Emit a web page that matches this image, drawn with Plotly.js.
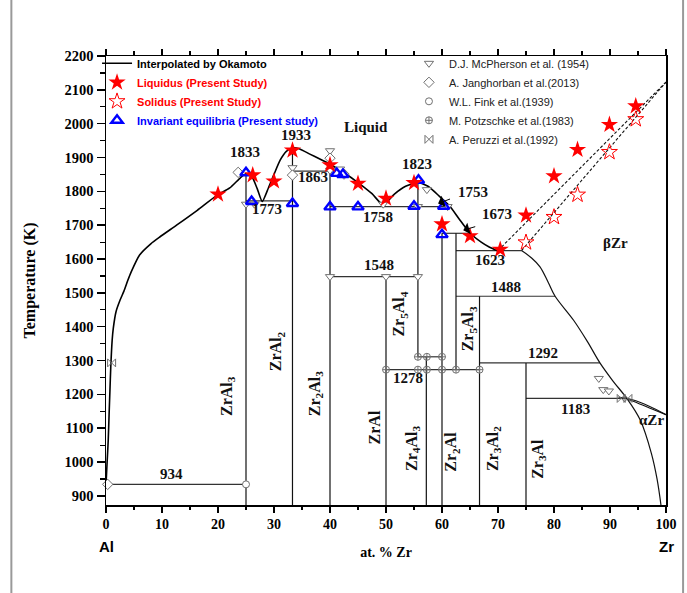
<!DOCTYPE html>
<html><head><meta charset="utf-8">
<script src="https://cdn.plot.ly/plotly-3.0.1.min.js"></script>
<style>body{margin:0;background:#fff}#chart{width:687px;height:593px}</style>
</head><body><div id="chart"></div>
<script>
// ---- Okamoto interpolated liquidus (solid) ----
const liquidusX = [0, 0.2, 0.4, 0.55, 0.7, 0.85, 1.1, 1.3, 1.8, 2.5, 3.2, 3.9, 4.5, 6, 8, 9.6, 12.6, 16.3, 19.8, 22.1, 24, 25, 26, 27, 27.9, 29, 30, 31.1, 32.2, 33.3, 34.5, 36.4, 38, 40, 42.5, 45, 47.5, 49.5, 51.5, 53.5, 55.7, 57.5, 59.5, 61.4, 63, 65, 67, 68.5, 70];
const liquidusT = [934, 1000, 1065, 1140, 1210, 1280, 1360, 1395, 1445, 1478, 1505, 1537, 1562, 1612, 1645, 1665, 1700, 1744, 1788, 1810, 1840, 1852, 1845, 1808, 1770, 1810, 1850, 1892, 1918, 1928, 1926, 1910, 1897, 1880, 1855, 1826, 1793, 1760, 1792, 1815, 1826, 1815, 1786, 1756, 1720, 1677, 1650, 1635, 1624];
// dashed liquidus / solidus towards Zr
const dashLiqX = [70, 100];
const dashLiqT = [1625, 2123];
const dashSolX = [74.2, 100];
const dashSolT = [1625, 2123];
// beta-Zr solvus
const solvusX = [74.2, 76, 77.5, 79, 80.2, 83.5, 86, 88.2, 90.5, 93, 95.4, 97.4, 98.4, 99.1];
const solvusT = [1625, 1603, 1577, 1530, 1490, 1419, 1355, 1293, 1240, 1188, 1124, 1025, 950, 873];
// alpha-Zr two-phase boundaries
const alphaUpX = [91.5, 94, 97, 100];
const alphaUpT = [1192, 1184, 1165, 1140];
const alphaLoX = [93, 95, 97.5, 100];
const alphaLoT = [1186, 1174, 1157, 1140];
// invariant isotherms (as drawn)
const isoT  = [934, 1772, 1860, 1755, 1755, 1676, 1625, 1548, 1490, 1311, 1273, 1293, 1188];
const isoX1 = [0, 25, 33.3, 40, 55.7, 60, 62.5, 40, 62.5, 55.7, 50, 66.7, 75];
const isoX2 = [25, 33.3, 40, 55.7, 61.4, 65, 74.2, 55.7, 80.2, 60, 66.7, 88.2, 93];
// intermetallic compound lines
const compX   = [25, 33.3, 40, 50, 55.7, 57.2, 60, 62.5, 66.7, 75];
const compTop = [1852, 1928, 1860, 1548, 1826, 1311, 1676, 1676, 1490, 1293];
const compBot = [873, 873, 873, 873, 1311, 873, 873, 1273, 873, 873];

// ---- present study ----
const liqStarX = [20, 26.2, 30, 33.3, 40, 45, 50, 55, 60, 65, 70.4, 75, 80, 84.2, 89.9, 94.6];
const liqStarT = [1791, 1848, 1830, 1921, 1878, 1823, 1779, 1825, 1703, 1668, 1628, 1729, 1845, 1923, 1997, 2052];
const solStarX = [75, 80, 84.2, 89.9, 94.6];
const solStarT = [1649, 1724, 1790, 1916, 2013];
const invX = [25, 26, 33.3, 40, 41.2, 42.3, 45, 55, 55.8, 60.3, 60];
const invT = [1855, 1770, 1764, 1754, 1853, 1850, 1754, 1756, 1833, 1756, 1672];

// ---- literature ----
const mcphX = [25, 26.5, 33.3, 40, 40, 41.8, 49.5, 55.7, 57.3, 61, 40, 50, 55.7, 88, 88.8, 89.8];
const mcphT = [1762, 1762, 1870, 1920, 1862, 1866, 1762, 1755, 1805, 1755, 1548, 1548, 1548, 1247, 1214, 1210];
const jangX = [0.3, 23.6, 33.3, 40, 42.5];
const jangT = [934, 1856, 1848, 1898, 1851];
const finkX = [25];
const finkT = [934];
const potzX = [50, 55.7, 57.3, 60, 62.5, 66.7, 55.7, 57.3, 60];
const potzT = [1273, 1273, 1273, 1273, 1273, 1273, 1311, 1311, 1311];
const peruX = [1, 92, 93.2];
const peruT = [1293, 1188, 1188];

// ---- labels ----
const labelText = ['1833','1773','1933','1863','Liquid','1823','1758','1753','1673','1623','1548','1488','1292','1278','1183','934','βZr','αZr'];
const labelX = [24.8, 28.7, 34, 37, 46.5, 55.5, 48.5, 65.5, 69.9, 68.6, 48.8, 71.5, 78.1, 54, 83.75, 11.7, 90.9, 97.4];
const labelT = [1916, 1749, 1966, 1843, 1990, 1882, 1723, 1798, 1734, 1596, 1582, 1518, 1323, 1247, 1158, 966, 1646, 1124];
const phaseText = ['ZrAl<sub>3</sub>','ZrAl<sub>2</sub>','Zr<sub>2</sub>Al<sub>3</sub>','ZrAl','Zr<sub>5</sub>Al<sub>4</sub>','Zr<sub>4</sub>Al<sub>3</sub>','Zr<sub>2</sub>Al','Zr<sub>5</sub>Al<sub>3</sub>','Zr<sub>3</sub>Al<sub>2</sub>','Zr<sub>3</sub>Al'];
const phaseX = [21.6, 30.5, 37.3, 47.9, 52.4, 54.6, 61.7, 64.7, 69.1, 77.3];
const phaseT = [1195, 1327, 1203, 1103, 1437, 1041, 1029, 1393, 1041, 1009];
const arrowX = [59.3, 63.8], arrowT = [1764, 1685], arrowTailX = [61.7, 66.2], arrowTailT = [1779, 1697];
const xTicks = [0,10,20,30,40,50,60,70,80,90,100];
const yTicks = [900,1000,1100,1200,1300,1400,1500,1600,1700,1800,1900,2000,2100,2200];

// build segments
function segs(x1, y1, x2, y2) {
  const xs = [], ys = [];
  for (let i = 0; i < x1.length; i++) { xs.push(x1[i], x2[i], null); ys.push(y1[i], y2[i], null); }
  return {xs, ys};
}
const iso = segs(isoX1, isoT, isoX2, isoT);
const comp = segs(compX, compTop, compX, compBot);
const lineStyle = {color: '#111', width: 1.2};
const gray = '#707070';

const traces = [
  {x: iso.xs, y: iso.ys, mode: 'lines', line: {color: '#333', width: 1.2}, showlegend: false, hoverinfo: 'skip'},
  {x: comp.xs, y: comp.ys, mode: 'lines', line: lineStyle, showlegend: false, hoverinfo: 'skip'},
  {x: solvusX, y: solvusT, mode: 'lines', line: {color: '#111', width: 1.2, shape: 'spline'}, showlegend: false},
  {x: alphaUpX, y: alphaUpT, mode: 'lines', line: {color: '#111', width: 1.1, shape: 'spline'}, showlegend: false},
  {x: alphaLoX, y: alphaLoT, mode: 'lines', line: {color: '#111', width: 1.1, shape: 'spline'}, showlegend: false},
  {x: dashLiqX, y: dashLiqT, mode: 'lines', line: {color: '#111', width: 1.1, dash: '3px,2px'}, showlegend: false},
  {x: dashSolX, y: dashSolT, mode: 'lines', line: {color: '#111', width: 1.1, dash: '3px,2px'}, showlegend: false},
  {x: liquidusX, y: liquidusT, mode: 'lines', name: 'Interpolated by Okamoto', legendrank: 1, line: {color: '#000', width: 1.6, shape: 'spline', smoothing: 0.6}, legend: 'legend'},
  // literature markers
  {x: mcphX, y: mcphT, mode: 'markers', name: 'D.J. McPherson et al. (1954)', legend: 'legend2', legendrank: 1, cliponaxis: false,
   marker: {symbol: 'triangle-down', size: 8, color: 'white', line: {color: gray, width: 1}}},
  {x: jangX, y: jangT, mode: 'markers', name: 'A. Janghorban et al.(2013)', legend: 'legend2', legendrank: 2, cliponaxis: false,
   marker: {symbol: 'diamond', size: 8, color: 'white', line: {color: gray, width: 1}}},
  {x: finkX, y: finkT, mode: 'markers', name: 'W.L. Fink et al.(1939)', legend: 'legend2', legendrank: 3, cliponaxis: false,
   marker: {symbol: 'circle', size: 7, color: 'white', line: {color: gray, width: 1}}},
  {x: potzX, y: potzT, mode: 'markers', name: 'M. Potzschke et al.(1983)', legend: 'legend2', legendrank: 4, cliponaxis: false,
   marker: {symbol: 'circle-cross-open', size: 7, color: gray, line: {color: gray, width: 1}}},
  {x: peruX, y: peruT, mode: 'markers', name: 'A. Peruzzi et al.(1992)', legend: 'legend2', legendrank: 5, cliponaxis: false,
   marker: {symbol: 'bowtie-open', size: 8, color: gray, line: {color: gray, width: 1}}},
  // present study
  {x: invX, y: invT, mode: 'markers', name: '<span style="color:#0000ff">Invariant equilibria (Present study)</span>', legend: 'legend', legendrank: 4, cliponaxis: false,
   marker: {symbol: 'triangle-up-open', size: 10, color: '#0000ff', line: {color: '#0000ff', width: 2.4}}},
  {x: solStarX, y: solStarT, mode: 'markers', name: '<span style="color:#ff0000">Solidus (Present Study)</span>', legend: 'legend', legendrank: 3, cliponaxis: false,
   marker: {symbol: 'star-open', size: 12, color: '#ff0000', line: {color: '#ff0000', width: 1}}},
  {x: liqStarX, y: liqStarT, mode: 'markers', name: '<span style="color:#ff0000">Liquidus (Present Study)</span>', legend: 'legend', legendrank: 2, cliponaxis: false,
   marker: {symbol: 'star', size: 13, color: '#ff0000', line: {width: 0}}}
];

const serif = 'Liberation Serif, Times New Roman, serif';
const annotations = [];
for (let i = 0; i < labelText.length; i++) {
  annotations.push({x: labelX[i], y: labelT[i], xref: 'x', yref: 'y', text: labelText[i], showarrow: false,
    font: {family: serif, size: 15, color: '#111', weight: 'bold'}});
}
for (let i = 0; i < phaseText.length; i++) {
  annotations.push({x: phaseX[i], y: phaseT[i], xref: 'x', yref: 'y', text: phaseText[i], showarrow: false, textangle: -90,
    font: {family: serif, size: 16, color: '#111', weight: 'bold'}});
}
for (let i = 0; i < arrowX.length; i++) {
  annotations.push({x: arrowX[i], y: arrowT[i], xref: 'x', yref: 'y', ax: arrowTailX[i], ay: arrowTailT[i], axref: 'x', ayref: 'y',
    text: '', showarrow: true, arrowhead: 1, arrowsize: 2, arrowwidth: 1, arrowcolor: '#000'});
}
annotations.push({x: 0, y: -0.093, xref: 'paper', yref: 'paper', xanchor: 'center', yanchor: 'middle', text: 'Al', showarrow: false,
  font: {family: 'Liberation Sans, Arial, sans-serif', size: 15, color: '#000', weight: 'bold'}});
annotations.push({x: 1, y: -0.093, xref: 'paper', yref: 'paper', xanchor: 'center', yanchor: 'middle', text: 'Zr', showarrow: false,
  font: {family: 'Liberation Sans, Arial, sans-serif', size: 15, color: '#000', weight: 'bold'}});

const layout = {
  width: 687, height: 593,
  margin: {l: 106, r: 21, t: 56, b: 88},
  paper_bgcolor: '#fff', plot_bgcolor: '#fff',
  showlegend: true,
  xaxis: {range: [0, 100], tickvals: xTicks, ticktext: xTicks.map(String), ticks: 'outside', ticklen: 6, tickwidth: 1.5,
    tickcolor: '#000', showline: true, linecolor: '#000', linewidth: 1.5, mirror: 'ticks', showgrid: false, zeroline: false,
    minor: {dtick: 5, ticks: 'outside', ticklen: 3.5, tickwidth: 1.2, tickcolor: '#000', showgrid: false},
    tickfont: {family: serif, size: 14, color: '#000', weight: 'bold'},
    title: {text: 'at. % Zr', standoff: 16, font: {family: serif, size: 14, color: '#000', weight: 'bold'}}},
  yaxis: {range: [873, 2200], tickvals: yTicks, ticktext: yTicks.map(String), ticks: 'outside', ticklen: 8, tickwidth: 1.5,
    tickcolor: '#000', showline: true, linecolor: '#000', linewidth: 1.5, mirror: true, showgrid: false, zeroline: false,
    minor: {dtick: 50, ticks: 'outside', ticklen: 4.5, tickwidth: 1.2, tickcolor: '#000', showgrid: false},
    tickfont: {family: serif, size: 14.5, color: '#000', weight: 'bold'},
    title: {text: 'Temperature (K)', standoff: 25, font: {family: serif, size: 16, color: '#000', weight: 'bold'}}},
  legend: {x: -0.016, y: 1.016, xanchor: 'left', yanchor: 'top', bgcolor: 'rgba(0,0,0,0)', borderwidth: 0,
    traceorder: 'normal', font: {family: 'Liberation Sans, Arial, sans-serif', size: 11, color: '#000', weight: 'bold'}},
  legend2: {x: 0.541, y: 1.016, xanchor: 'left', yanchor: 'top', bgcolor: 'rgba(0,0,0,0)', borderwidth: 0,
    traceorder: 'normal', font: {family: 'Liberation Sans, Arial, sans-serif', size: 11, color: '#222'}},
  annotations: annotations,
  shapes: [
    {type: 'line', xref: 'paper', yref: 'paper', x0: -0.169, x1: -0.169, y0: -0.3, y1: 1.2, line: {color: '#999', width: 2}},
    {type: 'line', xref: 'paper', yref: 'paper', x0: 1.0305, x1: 1.0305, y0: -0.3, y1: 1.2, line: {color: '#999', width: 2}}
  ]
};

Plotly.newPlot('chart', traces, layout, {displayModeBar: false, staticPlot: true});
</script>
</body></html>
